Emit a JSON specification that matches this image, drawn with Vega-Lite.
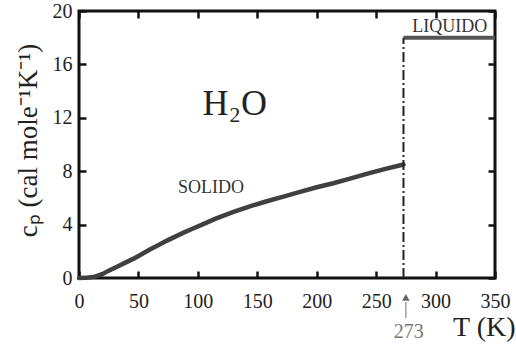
{
  "$schema": "https://vega.github.io/schema/vega-lite/v6.json",
  "width": 416,
  "height": 267,
  "autosize": {"type": "none"},
  "padding": {"left": 79, "top": 11, "right": 21, "bottom": 67},
  "background": "white",
  "config": {
    "font": "Liberation Serif, Times New Roman, serif",
    "view": {"stroke": "#111", "strokeWidth": 3},
    "text": {"font": "Liberation Serif, Times New Roman, serif"},
    "axis": {"domain": false, "grid": false, "tickColor": "#111", "tickWidth": 2.5, "labelFont": "Liberation Serif, Times New Roman, serif", "titleFont": "Liberation Serif, Times New Roman, serif", "labelColor": "#222", "titleColor": "#222", "titleFontWeight": "normal"}
  },
  "datasets": {
    "solid": [
      {"T": 0, "cp": 0}, {"T": 5, "cp": 0.01}, {"T": 10, "cp": 0.05}, {"T": 14, "cp": 0.12},
      {"T": 20, "cp": 0.3}, {"T": 25, "cp": 0.55}, {"T": 32, "cp": 0.85}, {"T": 39, "cp": 1.15},
      {"T": 46, "cp": 1.45}, {"T": 53, "cp": 1.8}, {"T": 60, "cp": 2.15}, {"T": 67, "cp": 2.47},
      {"T": 74, "cp": 2.8}, {"T": 81, "cp": 3.1}, {"T": 88, "cp": 3.4}, {"T": 95, "cp": 3.67},
      {"T": 105, "cp": 4.05}, {"T": 115, "cp": 4.45}, {"T": 130, "cp": 4.95}, {"T": 145, "cp": 5.4},
      {"T": 158, "cp": 5.75}, {"T": 172, "cp": 6.1}, {"T": 186, "cp": 6.45}, {"T": 200, "cp": 6.8},
      {"T": 214, "cp": 7.1}, {"T": 228, "cp": 7.45}, {"T": 242, "cp": 7.8}, {"T": 257, "cp": 8.15},
      {"T": 273, "cp": 8.5}
    ],
    "liquid": [{"T": 273, "cp": 18}, {"T": 350, "cp": 18}],
    "transition": [{"T": 273, "cp0": 0, "cp1": 18}],
    "labels": [
      {"T": 131, "cp": 12.2, "text": "H₂O", "size": 36, "color": "#222"},
      {"T": 111, "cp": 6.4, "text": "SOLIDO", "size": 18, "color": "#333"},
      {"T": 312, "cp": 18.4, "text": "LIQUIDO", "size": 18, "color": "#333"},
      {"T": 277.5, "cp": -4.5, "text": "273", "size": 20, "color": "#777"}
    ],
    "arrow": [{"T": 275, "cp": -1.45}],
    "stem": [{"T": 275, "cp0": -1.8, "cp1": -3.0}]
  },
  "resolve": {"axis": {"x": "independent", "y": "independent"}},
  "layer": [
    {
      "data": {"name": "solid"},
      "mark": {"type": "line", "color": "#404040", "strokeWidth": 4.5, "strokeCap": "round"},
      "encoding": {
        "x": {"field": "T", "type": "quantitative", "scale": {"domain": [0, 350], "nice": false},
          "axis": {"orient": "bottom", "values": [0, 50, 100, 150, 200, 250, 300, 350], "tickSize": -7, "labelFontSize": 20, "labelPadding": 20, "labelBaseline": "top", "labelFlush": false,
            "title": "T (K)", "titleFontSize": 28, "titleAnchor": "start", "titleAlign": "right", "titleBaseline": "alphabetic", "titleX": 436, "titleY": 57}},
        "y": {"field": "cp", "type": "quantitative", "scale": {"domain": [0, 20], "nice": false},
          "axis": {"orient": "left", "values": [0, 4, 8, 12, 16, 20], "tickSize": -7, "labelFontSize": 20, "labelPadding": 14, "labelFlush": false,
            "title": "cₚ (cal mole⁻¹K⁻¹)", "titleFontSize": 27, "titleAngle": 270, "titleAlign": "center", "titleBaseline": "middle", "titleX": -51, "titleY": 129}}
      }
    },
    {
      "data": {"name": "liquid"},
      "mark": {"type": "line", "color": "#555", "strokeWidth": 4},
      "encoding": {
        "x": {"field": "T", "type": "quantitative", "axis": null},
        "y": {"field": "cp", "type": "quantitative", "axis": null}
      }
    },
    {
      "data": {"name": "transition"},
      "mark": {"type": "rule", "color": "#222", "strokeWidth": 2, "strokeDash": [10, 3, 2, 3]},
      "encoding": {
        "x": {"field": "T", "type": "quantitative", "axis": null},
        "y": {"field": "cp0", "type": "quantitative", "axis": null},
        "y2": {"field": "cp1"}
      }
    },
    {
      "data": {"name": "labels"},
      "mark": {"type": "text", "align": "center", "baseline": "alphabetic", "font": "Liberation Serif, Times New Roman, serif"},
      "encoding": {
        "x": {"field": "T", "type": "quantitative", "axis": null},
        "y": {"field": "cp", "type": "quantitative", "axis": null},
        "text": {"field": "text"},
        "size": {"field": "size", "type": "quantitative", "scale": null},
        "color": {"field": "color", "type": "nominal", "scale": null}
      }
    },
    {
      "data": {"name": "arrow"},
      "mark": {"type": "point", "shape": "triangle-up", "filled": true, "color": "#666", "size": 60, "opacity": 1},
      "encoding": {
        "x": {"field": "T", "type": "quantitative", "axis": null},
        "y": {"field": "cp", "type": "quantitative", "axis": null}
      }
    },
    {
      "data": {"name": "stem"},
      "mark": {"type": "rule", "color": "#888", "strokeWidth": 1.2},
      "encoding": {
        "x": {"field": "T", "type": "quantitative", "axis": null},
        "y": {"field": "cp0", "type": "quantitative", "axis": null},
        "y2": {"field": "cp1"}
      }
    },
    {
      "data": {"name": "liquid"},
      "mark": {"type": "point", "opacity": 0},
      "encoding": {
        "x": {"field": "T", "type": "quantitative",
          "axis": {"orient": "top", "values": [0, 50, 100, 150, 200, 250, 300, 350], "tickSize": -7, "labels": false, "title": null}},
        "y": {"field": "cp", "type": "quantitative",
          "axis": {"orient": "right", "values": [0, 4, 8, 12, 16, 20], "tickSize": -7, "labels": false, "title": null}}
      }
    }
  ]
}
